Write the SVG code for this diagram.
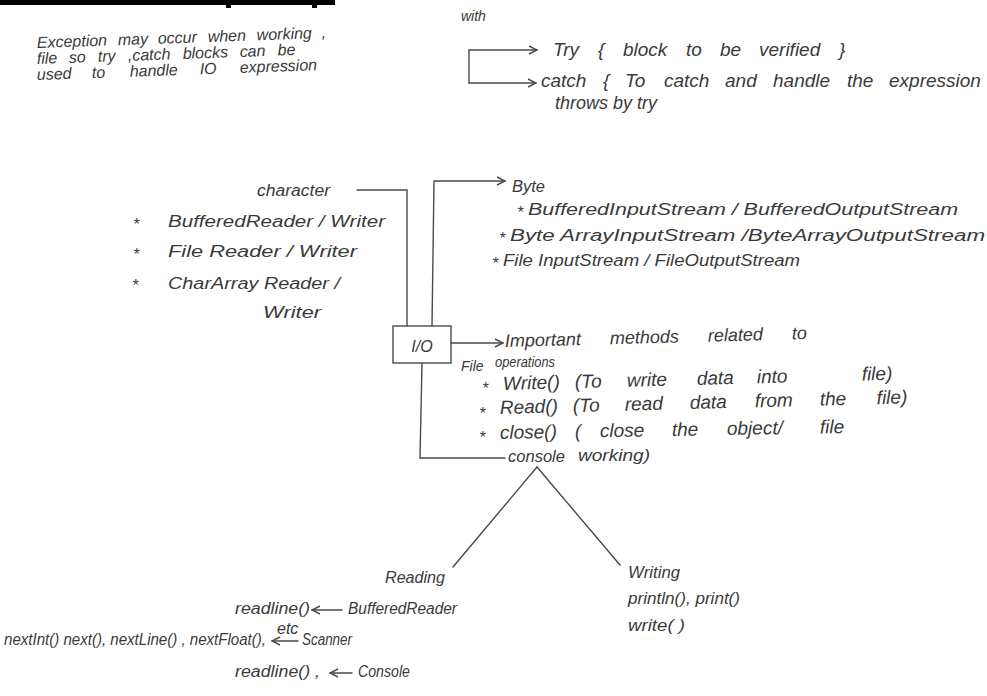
<svg xmlns="http://www.w3.org/2000/svg" width="987" height="696" viewBox="0 0 987 696">
<defs>
<style>
.t{font-family:"Liberation Sans",Arial,sans-serif;font-style:italic;fill:#3a3a3a;font-size:16px}
.s{font-size:14px}
.b{font-size:18px}
.c{font-size:19px}
.ln{stroke:#4a4a4a;stroke-width:1.4;fill:none;stroke-linecap:round}
</style>
<marker id="chev" viewBox="0 0 10 10" refX="9" refY="5" markerWidth="10" markerHeight="10" markerUnits="userSpaceOnUse" orient="auto">
<path d="M1,1 L9,5 L1,9" fill="none" stroke="#4a4a4a" stroke-width="1.4"/>
</marker>
</defs>
<rect width="987" height="696" fill="#ffffff"/>
<rect x="0" y="0" width="335" height="5" fill="#000"/>
<rect x="226" y="4" width="5" height="4" fill="#000"/>
<rect x="312" y="4" width="5" height="4" fill="#000"/>

<g id="connectors">
<path class="ln" d="M469,50 H537" marker-end="url(#chev)"/>
<path class="ln" d="M469,50 V83 H536" marker-end="url(#chev)"/>
<path class="ln" d="M357,190 H407 V326"/>
<path class="ln" d="M432,326 L434,181 H505" marker-end="url(#chev)"/>
<path class="ln" d="M451,343 H503" marker-end="url(#chev)"/>
<path class="ln" d="M422,363 L420,458 H505"/>
<path class="ln" d="M537,467 L453,567"/>
<path class="ln" d="M537,467 L620,565"/>
<path class="ln" d="M342,610 H312" marker-end="url(#chev)"/>
<path class="ln" d="M298,641 H272" marker-end="url(#chev)"/>
<path class="ln" d="M352,673 H330" marker-end="url(#chev)"/>
</g>

<g id="intro">
<g transform="rotate(-2 37 48)">
<text class="t" x="37" y="48">Exception</text>
<text class="t" x="118" y="48">may</text>
<text class="t" x="158" y="48">occur</text>
<text class="t" x="208" y="48">when</text>
<text class="t" x="257" y="48">working</text>
<text class="t" x="322" y="48">,</text>
</g>
<g transform="rotate(-2 37 64)">
<text class="t" x="37" y="64">file</text>
<text class="t" x="69" y="64">so</text>
<text class="t" x="98" y="64">try</text>
<text class="t" x="128" y="64">,catch</text>
<text class="t" x="183" y="64">blocks</text>
<text class="t" x="240" y="64">can</text>
<text class="t" x="278" y="64">be</text>
</g>
<g transform="rotate(-2 37 80)">
<text class="t" x="37" y="80">used</text>
<text class="t" x="92" y="80">to</text>
<text class="t" x="130" y="80">handle</text>
<text class="t" x="200" y="80">IO</text>
<text class="t" x="240" y="80">expression</text>
</g>
</g>

<g id="try-catch">
<text class="t s" x="461" y="21">with</text>
<text class="t c" x="553" y="56">Try</text>
<text class="t c" x="598" y="56">{</text>
<text class="t c" x="623" y="56">block</text>
<text class="t c" x="686" y="56">to</text>
<text class="t c" x="720" y="56">be</text>
<text class="t c" x="759" y="56">verified</text>
<text class="t c" x="839" y="56">}</text>
<text class="t c" x="541" y="87">catch</text>
<text class="t c" x="603" y="87">{</text>
<text class="t c" x="625" y="87">To</text>
<text class="t c" x="664" y="87">catch</text>
<text class="t c" x="725" y="87">and</text>
<text class="t c" x="773" y="87">handle</text>
<text class="t c" x="847" y="87">the</text>
<text class="t c" x="889" y="87">expression</text>
<text class="t b" x="555" y="109">throws</text>
<text class="t b" x="613" y="109">by</text>
<text class="t b" x="637" y="109">try</text>
</g>

<g id="character">
<text class="t" x="257" y="196" textLength="73" lengthAdjust="spacingAndGlyphs">character</text>
<text class="t" x="133" y="230">*</text>
<text class="t" x="168" y="227" textLength="217" lengthAdjust="spacingAndGlyphs">BufferedReader / Writer</text>
<text class="t" x="133" y="260">*</text>
<text class="t" x="168" y="257" textLength="189" lengthAdjust="spacingAndGlyphs">File Reader / Writer</text>
<text class="t" x="132" y="291">*</text>
<text class="t" x="168" y="289" textLength="172" lengthAdjust="spacingAndGlyphs">CharArray Reader /</text>
<text class="t" x="263" y="318" textLength="58" lengthAdjust="spacingAndGlyphs">Writer</text>
</g>

<g id="byte">
<text class="t" x="512" y="192" textLength="33" lengthAdjust="spacingAndGlyphs">Byte</text>
<text class="t" x="517" y="218">*</text>
<text class="t" x="528" y="215" textLength="430" lengthAdjust="spacingAndGlyphs">BufferedInputStream / BufferedOutputStream</text>
<text class="t" x="499" y="244">*</text>
<text class="t" x="510" y="241" textLength="475" lengthAdjust="spacingAndGlyphs">Byte ArrayInputStream /ByteArrayOutputStream</text>
<text class="t" x="492" y="269">*</text>
<text class="t" x="503" y="266" textLength="297" lengthAdjust="spacingAndGlyphs">File InputStream / FileOutputStream</text>
</g>

<g id="io">
<rect x="393" y="326" width="58" height="37" fill="none" stroke="#4a4a4a" stroke-width="1.4"/>
<text class="t" x="422" y="352" font-size="20" text-anchor="middle" font-style="normal">I/O</text>
</g>

<g id="file">
<g transform="rotate(-1.5 505 347)">
<text class="t b" x="505" y="347">Important</text>
<text class="t b" x="610" y="347">methods</text>
<text class="t b" x="708" y="347">related</text>
<text class="t b" x="792" y="347">to</text>
</g>
<text class="t s" x="461" y="371">File</text>
<text class="t s" x="495" y="367" textLength="60" lengthAdjust="spacingAndGlyphs">operations</text>
<text class="t" x="482" y="394">*</text>
<g transform="rotate(-1.5 503 390)">
<text class="t c" x="503" y="390">Write()</text>
<text class="t c" x="575" y="390">(To</text>
<text class="t c" x="627" y="390">write</text>
<text class="t c" x="697" y="390">data</text>
<text class="t c" x="757" y="390">into</text>
<text class="t c" x="862" y="390">file)</text>
</g>
<text class="t" x="479" y="419">*</text>
<g transform="rotate(-1.5 500 414)">
<text class="t c" x="500" y="414">Read()</text>
<text class="t c" x="573" y="414">(To</text>
<text class="t c" x="625" y="414">read</text>
<text class="t c" x="690" y="414">data</text>
<text class="t c" x="755" y="414">from</text>
<text class="t c" x="820" y="414">the</text>
<text class="t c" x="877" y="414">file)</text>
</g>
<text class="t" x="479" y="443">*</text>
<g transform="rotate(-1 500 439)">
<text class="t c" x="500" y="439">close()</text>
<text class="t c" x="575" y="439">(</text>
<text class="t c" x="600" y="439">close</text>
<text class="t c" x="672" y="439">the</text>
<text class="t c" x="727" y="439">object/</text>
<text class="t c" x="820" y="439">file</text>
</g>
<text class="t" x="578" y="461" textLength="72" lengthAdjust="spacingAndGlyphs">working)</text>
</g>

<g id="console">
<text class="t" x="508" y="462" textLength="57" lengthAdjust="spacingAndGlyphs">console</text>
</g>

<g id="reading">
<text class="t" x="385" y="583" textLength="60" lengthAdjust="spacingAndGlyphs">Reading</text>
<text class="t" x="235" y="614" textLength="75" lengthAdjust="spacingAndGlyphs">readline()</text>
<text class="t" x="348" y="614" textLength="109" lengthAdjust="spacingAndGlyphs">BufferedReader</text>
<text class="t" x="4" y="645" textLength="262" lengthAdjust="spacingAndGlyphs">nextInt() next(), nextLine() , nextFloat(),</text>
<text class="t" x="277" y="634" font-size="10">etc</text>
<text class="t" x="302" y="645" textLength="50" lengthAdjust="spacingAndGlyphs">Scanner</text>
<text class="t" x="235" y="677" textLength="85" lengthAdjust="spacingAndGlyphs">readline() ,</text>
<text class="t" x="358" y="677" textLength="52" lengthAdjust="spacingAndGlyphs">Console</text>
</g>

<g id="writing">
<text class="t" x="628" y="578" textLength="52" lengthAdjust="spacingAndGlyphs">Writing</text>
<text class="t" x="628" y="604" textLength="112" lengthAdjust="spacingAndGlyphs">println(), print()</text>
<text class="t" x="628" y="631" textLength="57" lengthAdjust="spacingAndGlyphs">write( )</text>
</g>
</svg>
